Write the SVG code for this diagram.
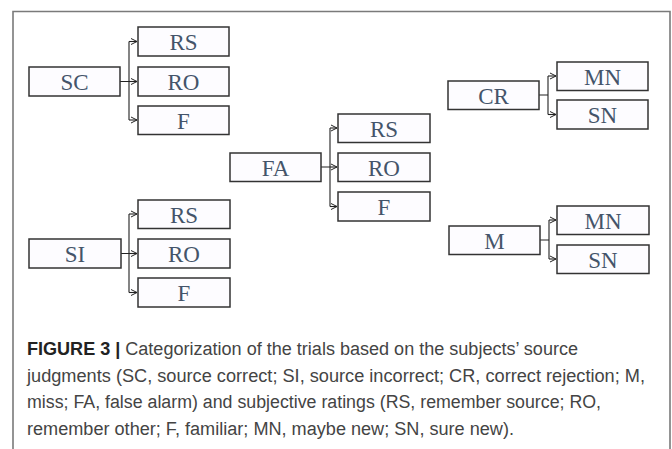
<svg xmlns="http://www.w3.org/2000/svg" width="672" height="449" viewBox="0 0 672 449">
<defs>
<marker id="arr" markerWidth="8" markerHeight="8" refX="7" refY="4" orient="auto" markerUnits="userSpaceOnUse">
<path d="M1,1 L7,4 L1,7" fill="none" stroke="#222" stroke-width="1"/>
</marker>
<style>
.box{fill:#fdfcff;stroke:#333;stroke-width:1.5}
.lbl{font-family:"Liberation Serif","Times New Roman",serif;font-size:23px;fill:#44546a;text-anchor:middle}
.con{fill:none;stroke:#222;stroke-width:1.1}
.cap{font-family:"Liberation Sans",Arial,sans-serif;font-size:18px;fill:#444}
.capb{font-weight:bold;fill:#222}
</style>
</defs>
<rect x="0" y="0" width="672" height="449" fill="#fff"/>
<path d="M13,449 V11.5 H670 V449" fill="none" stroke="#7a7a7a" stroke-width="1.6"/>

<g id="connectors">
<path class="con" d="M120,81.5 H129 M129,41.5 V120"/>
<path class="con" marker-end="url(#arr)" d="M129,41.5 H137"/>
<path class="con" marker-end="url(#arr)" d="M129,81.5 H137"/>
<path class="con" marker-end="url(#arr)" d="M129,120 H137"/>

<path class="con" d="M121,253.5 H129 M129,214 V292.5"/>
<path class="con" marker-end="url(#arr)" d="M129,214 H137"/>
<path class="con" marker-end="url(#arr)" d="M129,253.5 H137"/>
<path class="con" marker-end="url(#arr)" d="M129,292.5 H137"/>

<path class="con" d="M321,167 H330 M330,128 V206.5"/>
<path class="con" marker-end="url(#arr)" d="M330,128 H337"/>
<path class="con" marker-end="url(#arr)" d="M330,167 H337"/>
<path class="con" marker-end="url(#arr)" d="M330,206.5 H337"/>

<path class="con" d="M539,95 H548 M548,76 V114.5"/>
<path class="con" marker-end="url(#arr)" d="M548,76 H556"/>
<path class="con" marker-end="url(#arr)" d="M548,114.5 H556"/>

<path class="con" d="M540,240 H549 M549,220 V259"/>
<path class="con" marker-end="url(#arr)" d="M549,220 H556"/>
<path class="con" marker-end="url(#arr)" d="M549,259 H556"/>
</g>

<g id="SC"><rect class="box" x="29" y="67" width="91" height="29"/><text class="lbl" x="74.5" y="90">SC</text></g>
<g id="SC-RS"><rect class="box" x="138" y="27" width="91" height="29"/><text class="lbl" x="183.5" y="50">RS</text></g>
<g id="SC-RO"><rect class="box" x="138" y="67" width="91" height="29"/><text class="lbl" x="183.5" y="90">RO</text></g>
<g id="SC-F"><rect class="box" x="138" y="106" width="91" height="28.5"/><text class="lbl" x="183.5" y="128.5">F</text></g>

<g id="SI"><rect class="box" x="29" y="239" width="92" height="29"/><text class="lbl" x="75" y="262">SI</text></g>
<g id="SI-RS"><rect class="box" x="138" y="200" width="92" height="28.5"/><text class="lbl" x="184" y="222.5">RS</text></g>
<g id="SI-RO"><rect class="box" x="138" y="239" width="92" height="29"/><text class="lbl" x="184" y="262">RO</text></g>
<g id="SI-F"><rect class="box" x="138" y="278" width="92" height="29"/><text class="lbl" x="184" y="301">F</text></g>

<g id="FA"><rect class="box" x="230" y="153" width="91" height="28.5"/><text class="lbl" x="275.5" y="175.5">FA</text></g>
<g id="FA-RS"><rect class="box" x="338" y="114" width="92" height="28.5"/><text class="lbl" x="384" y="136.5">RS</text></g>
<g id="FA-RO"><rect class="box" x="338" y="153" width="92" height="28.5"/><text class="lbl" x="384" y="175.5">RO</text></g>
<g id="FA-F"><rect class="box" x="338" y="192" width="92" height="29"/><text class="lbl" x="384" y="215">F</text></g>

<g id="CR"><rect class="box" x="448" y="81" width="91" height="28.5"/><text class="lbl" x="493.5" y="103.5">CR</text></g>
<g id="CR-MN"><rect class="box" x="557" y="62" width="91" height="28.5"/><text class="lbl" x="602.5" y="84.5">MN</text></g>
<g id="CR-SN"><rect class="box" x="557" y="100" width="91" height="29"/><text class="lbl" x="602.5" y="123">SN</text></g>

<g id="M"><rect class="box" x="449" y="226" width="91" height="28.5"/><text class="lbl" x="494.5" y="248.5">M</text></g>
<g id="M-MN"><rect class="box" x="557" y="206" width="92" height="28.5"/><text class="lbl" x="603" y="228.5">MN</text></g>
<g id="M-SN"><rect class="box" x="557" y="245" width="92" height="28.5"/><text class="lbl" x="603" y="267.5">SN</text></g>

<g id="caption">
<text class="cap" x="27" y="355" textLength="551" lengthAdjust="spacingAndGlyphs"><tspan class="capb">FIGURE 3 |</tspan> Categorization of the trials based on the subjects’ source</text>
<text class="cap" x="27" y="381.5" textLength="618" lengthAdjust="spacingAndGlyphs">judgments (SC, source correct; SI, source incorrect; CR, correct rejection; M,</text>
<text class="cap" x="27" y="408" textLength="574" lengthAdjust="spacingAndGlyphs">miss; FA, false alarm) and subjective ratings (RS, remember source; RO,</text>
<text class="cap" x="27" y="434.5" textLength="487" lengthAdjust="spacingAndGlyphs">remember other; F, familiar; MN, maybe new; SN, sure new).</text>
</g>
</svg>
